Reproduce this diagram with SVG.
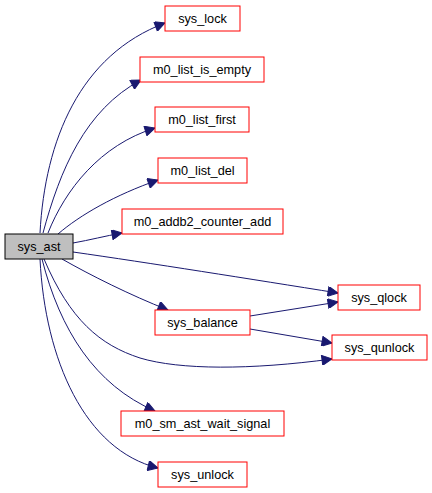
<svg xmlns="http://www.w3.org/2000/svg" width="432" height="493" viewBox="0 0 432 493">
<defs>
<marker id="ah" viewBox="0 0 10 10" refX="10" refY="5" markerWidth="15" markerHeight="10" markerUnits="userSpaceOnUse" orient="auto">
<path d="M0,0 L10,5 L0,10 Z" fill="#191970" stroke="#191970"/>
</marker>
</defs>
<style>
.n rect{fill:#fff;stroke:#ff0000;stroke-width:1}
.root rect{fill:#bfbfbf;stroke:#000}
text{font-family:"Liberation Sans",Arial,sans-serif;font-size:12.7px;text-anchor:middle;fill:#000}
#edges path{fill:none;stroke:#191970;stroke-width:1;marker-end:url(#ah)}
</style>
<rect width="432" height="493" fill="#fff"/>
<g id="edges">
<path d="M40,233 C45,140 80,55 165,23"/>
<path d="M43,233 C60,170 85,110 141,80"/>
<path d="M48,233 C65,190 100,145 155,128"/>
<path d="M58,234 C80,215 115,195 158,180"/>
<path d="M73,243 C90,240 105,236 122,233"/>
<path d="M73,252 C150,263 250,279 338,293"/>
<path d="M62,259 C90,275 130,295 168,310"/>
<path d="M250,316 L338,302"/>
<path d="M250,329 L332,343"/>
<path d="M44,259 C70,320 100,345 140,358 C180,370 250,370 332,359"/>
<path d="M42,259 C60,330 95,385 155,411"/>
<path d="M40,259 C45,360 85,450 158,468"/>
</g>
<g id="sys_ast" class="n root"><rect x="5" y="234" width="68" height="25"/><text x="39" y="251">sys_ast</text></g>
<g id="sys_lock" class="n"><rect x="165" y="6" width="75" height="25"/><text x="202.5" y="23">sys_lock</text></g>
<g id="m0_list_is_empty" class="n"><rect x="140" y="57" width="124" height="25"/><text x="202" y="74">m0_list_is_empty</text></g>
<g id="m0_list_first" class="n"><rect x="155" y="107" width="94" height="25"/><text x="202" y="124">m0_list_first</text></g>
<g id="m0_list_del" class="n"><rect x="158" y="158" width="89" height="25"/><text x="202.5" y="175">m0_list_del</text></g>
<g id="m0_addb2_counter_add" class="n"><rect x="122" y="209" width="161" height="25"/><text x="202.5" y="226">m0_addb2_counter_add</text></g>
<g id="sys_balance" class="n"><rect x="155" y="310" width="95" height="25"/><text x="202.5" y="327">sys_balance</text></g>
<g id="sys_qlock" class="n"><rect x="338" y="285" width="82" height="25"/><text x="379" y="302">sys_qlock</text></g>
<g id="sys_qunlock" class="n"><rect x="332" y="335" width="95" height="25"/><text x="379.5" y="352">sys_qunlock</text></g>
<g id="m0_sm_ast_wait_signal" class="n"><rect x="121" y="411" width="163" height="25"/><text x="202.5" y="428">m0_sm_ast_wait_signal</text></g>
<g id="sys_unlock" class="n"><rect x="158" y="462" width="89" height="25"/><text x="202.5" y="479">sys_unlock</text></g>
</svg>
